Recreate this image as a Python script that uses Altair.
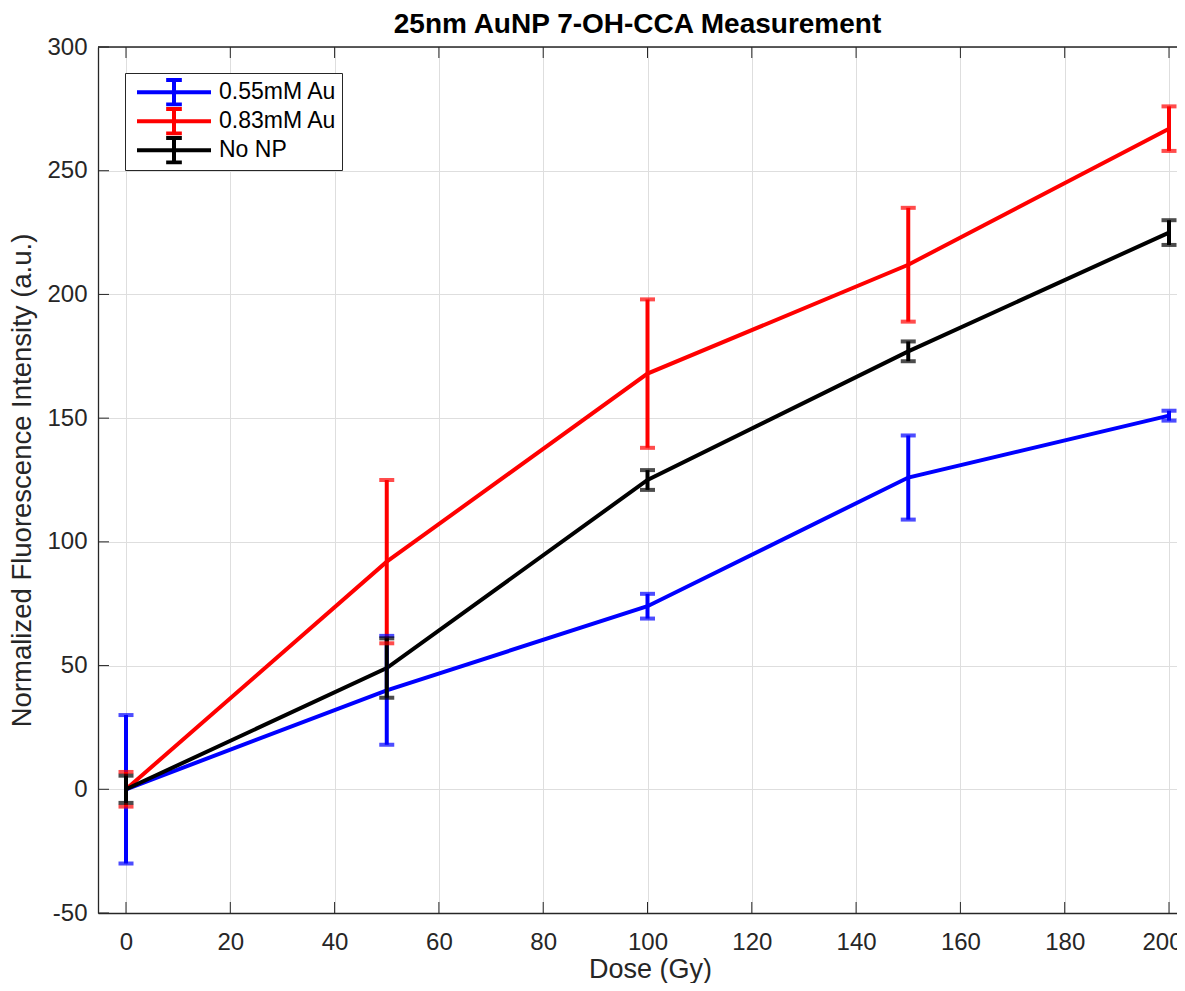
import altair as alt
import pandas as pd

# ---- data ----
dose = [0, 50, 100, 150, 200]
series_names = ["0.55mM Au", "0.83mM Au", "No NP"]
series_colors = ["#0000ff", "#ff0000", "#000000"]
au055_mean = [0, 40, 74, 126, 151]
au055_err = [30, 22, 5, 17, 2]
au083_mean = [0, 92, 168, 212, 267]
au083_err = [7, 33, 30, 23, 9]
nonp_mean = [0, 49, 125, 177, 225]
nonp_err = [5.5, 12, 4, 4, 5]
x_ticks = [0, 20, 40, 60, 80, 100, 120, 140, 160, 180, 200]
y_ticks = [-50, 0, 50, 100, 150, 200, 250, 300]

W, H = 1079, 866
X_DOM = [-5.37, -5.37 + W / 5.215]
Y_DOM = [-50, 300]
FONT = "Liberation Sans"
AX = "#262626"

rows = []
for name, means, errs in [(series_names[0], au055_mean, au055_err),
                          (series_names[1], au083_mean, au083_err),
                          (series_names[2], nonp_mean, nonp_err)]:
    for d, m, e in zip(dose, means, errs):
        rows.append({"series": name, "dose": d, "value": m, "lo": m - e, "hi": m + e})
df = pd.DataFrame(rows)

xs = alt.Scale(domain=X_DOM, nice=False, zero=False)
ys = alt.Scale(domain=Y_DOM, nice=False, zero=False)
cs = alt.Scale(domain=series_names, range=series_colors)

# inward tick marks (MATLAB style), derived from tick arrays
tick_len_y = 11 / (H / (Y_DOM[1] - Y_DOM[0]))
tick_len_x = 11 / (W / (X_DOM[1] - X_DOM[0]))
xt = pd.DataFrame({"t": x_ticks})
xt_bot = xt.assign(a=Y_DOM[0], b=Y_DOM[0] + tick_len_y)
xt_top = xt.assign(a=Y_DOM[1], b=Y_DOM[1] - tick_len_y)
yt = pd.DataFrame({"t": y_ticks}).assign(a=X_DOM[0], b=X_DOM[0] + tick_len_x)

tick_bot = alt.Chart(xt_bot).mark_rule(color=AX, strokeWidth=1).encode(
    x=alt.X("t:Q", scale=xs), y=alt.Y("a:Q", scale=ys), y2="b:Q")
tick_top = alt.Chart(xt_top).mark_rule(color=AX, strokeWidth=1).encode(
    x=alt.X("t:Q", scale=xs), y=alt.Y("a:Q", scale=ys), y2="b:Q")
tick_left = alt.Chart(yt).mark_rule(color=AX, strokeWidth=1).encode(
    y=alt.Y("t:Q", scale=ys), x=alt.X("a:Q", scale=xs), x2="b:Q")

top_border = alt.Chart(pd.DataFrame({"y": [Y_DOM[1]]})).mark_rule(
    color=AX, strokeWidth=1.3).encode(y=alt.Y("y:Q", scale=ys))

# legend glyph: line with an error-bar "I" on it; the trailing zero-length
# segment only widens the legend frame (renders nothing with butt caps)
legend_path = ("M-1,0H4.286M1.643,-0.88V0.88"
               "M1.083,-0.88H2.203M1.083,0.88H2.203M13.4,0H13.4")

lines = alt.Chart(df).mark_line(strokeWidth=4).encode(
    x=alt.X("dose:Q", scale=xs, title="Dose (Gy)",
            axis=alt.Axis(values=x_ticks, grid=True, gridColor="#dedede", gridWidth=1,
                          ticks=False, tickSize=0, domainColor=AX, domainWidth=1.3,
                          labelFont=FONT, labelFontSize=24, labelColor=AX,
                          labelPadding=17, labelFlush=False,
                          labelOffset={"condition": {"test": "datum.value == 200",
                                                     "value": -7}, "value": 0},
                          titleFont=FONT, titleFontSize=27, titleFontWeight="normal",
                          titleColor=AX, titleX=552, titleY=64, titleAlign="center",
                          titleBaseline="alphabetic")),
    y=alt.Y("value:Q", scale=ys, title="Normalized Fluorescence Intensity (a.u.)",
            axis=alt.Axis(values=y_ticks, grid=True, gridColor="#dedede", gridWidth=1,
                          ticks=False, tickSize=0, domainColor=AX, domainWidth=1.3,
                          labelFont=FONT, labelFontSize=24, labelColor=AX,
                          labelPadding=11, labelFlush=False,
                          labelExpr="datum.value + ''",
                          titleFont=FONT, titleFontSize=27.5, titleFontWeight="normal",
                          titleColor=AX, titleX=-76, titleY=433, titleAngle=270,
                          titleAlign="center", titleBaseline="middle")),
    color=alt.Color("series:N", scale=cs,
                    legend=alt.Legend(orient="none", legendX=27, legendY=26, title=None,
                                      symbolType=legend_path, symbolSize=784,
                                      symbolStrokeWidth=4, symbolOffset=5,
                                      labelOffset=52, labelFont=FONT, labelFontSize=23,
                                      labelColor="#000000", labelLimit=400,
                                      strokeColor=AX, fillColor="#ffffff",
                                      clipHeight=28.5,
                                      padding=5, rowPadding=0)),
    order=alt.Order("dose:Q"),
)

err_rules = alt.Chart(df).mark_rule(strokeWidth=4).encode(
    x=alt.X("dose:Q", scale=xs),
    y=alt.Y("lo:Q", scale=ys), y2="hi:Q",
    color=alt.Color("series:N", scale=cs, legend=None))
caps_lo = alt.Chart(df).mark_tick(orient="horizontal", size=15, thickness=4).encode(
    x=alt.X("dose:Q", scale=xs),
    y=alt.Y("lo:Q", scale=ys),
    color=alt.Color("series:N", scale=cs, legend=None))
caps_hi = alt.Chart(df).mark_tick(orient="horizontal", size=15, thickness=4).encode(
    x=alt.X("dose:Q", scale=xs),
    y=alt.Y("hi:Q", scale=ys),
    color=alt.Color("series:N", scale=cs, legend=None))

chart = alt.layer(
    lines, err_rules, caps_lo, caps_hi, top_border, tick_bot, tick_top, tick_left
).properties(
    width=W, height=H,
    title=alt.TitleParams("25nm AuNP 7-OH-CCA Measurement", font=FONT, fontSize=28,
                          fontWeight="bold", color="#000000", anchor="middle",
                          frame="group", offset=0, dy=4),
    autosize=alt.AutoSizeParams(type="none"),
    padding={"left": 90, "top": 39, "right": 0, "bottom": 70},
).configure_view(stroke=None).configure(background="white")

chart.save("out.html", embed_options={"renderer": "svg", "actions": False})
